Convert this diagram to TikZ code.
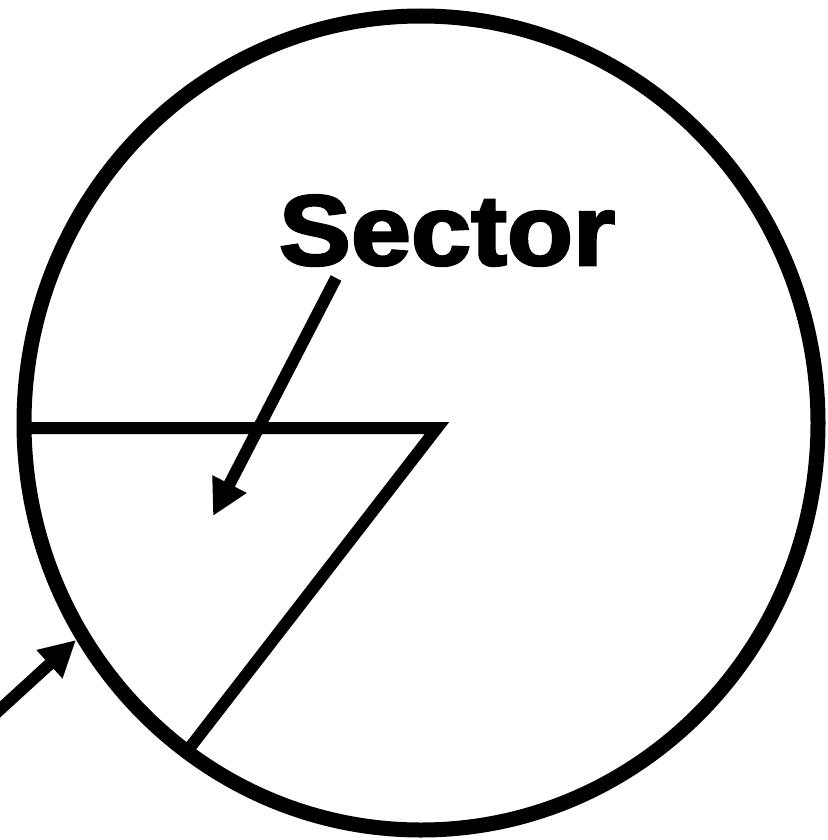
\documentclass[tikz,border=0pt]{standalone}
\usepackage{fontspec}
\setmainfont{Liberation Sans}
\newfontfamily\heavyfont[FakeBold=2.5]{Liberation Sans Bold}
\usetikzlibrary{arrows.meta}
\begin{document}
\begin{tikzpicture}[x=1pt,y=-1pt,
  rim/.style={line width=15pt},
  edge/.style={line width=12pt, line join=miter},
  pointer/.style={line width=12pt, -{Triangle[length=36pt,width=36pt]}}]
\useasboundingbox (0,0) rectangle (827,840);
\draw[rim] (421,423) ellipse [x radius=397, y radius=407];
\coordinate (c) at (437,428);
\coordinate (l) at (25,428);
\coordinate (b) at (188,750);
\draw[edge] (l) -- (c) -- (b);
\node[font=\heavyfont\fontsize{100}{100}\selectfont, xscale=1.08, inner sep=0pt, anchor=base] (lab) at (447,265) {Sector};
\coordinate (s0) at (336,278);
\coordinate (s1) at (213,516);
\draw[pointer] (s0) -- (s1);
\coordinate (a0) at (-5,714);
\coordinate (a1) at (76,640);
\draw[pointer] (a0) -- (a1);
\end{tikzpicture}
\end{document}
